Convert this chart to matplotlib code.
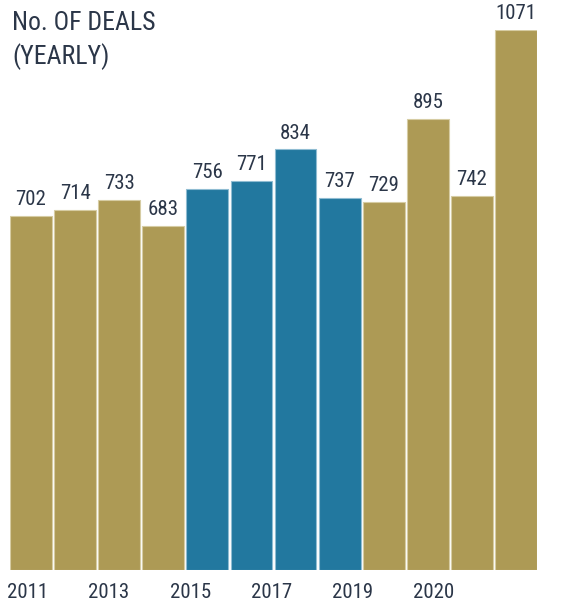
import matplotlib
matplotlib.use("Agg")
import matplotlib.pyplot as plt

years = ["2011", "2012", "2013", "2014", "2015", "2016", "2017", "2018", "2019", "2020", "2021", "2022"]
deals = [702, 714, 733, 683, 756, 771, 834, 737, 729, 895, 742, 1071]
highlight = [False, False, False, False, True, True, True, True, False, False, False, False]
tick_labels = ["2011", "2013", "2015", "2017", "2019", "2020"]

GOLD = "#ad9a55"
BLUE = "#22789f"
GOLD_EDGE = "#d6cca3"
BLUE_EDGE = "#8fbcd2"
TEXT = "#2b3648"

plt.rcParams["font.family"] = ["Roboto Condensed", "DejaVu Sans"]

fig = plt.figure(figsize=(5.70, 6.02), dpi=100)
ax = fig.add_axes([10 / 570, 32 / 602, 527 / 570, 540 / 602])

x = list(range(len(years)))
colors = [BLUE if h else GOLD for h in highlight]
edges = [BLUE_EDGE if h else GOLD_EDGE for h in highlight]
ax.bar(x, deals, width=0.95, color=colors, edgecolor=edges, linewidth=0.8)

for xi, v in zip(x, deals):
    ax.annotate(str(v), (xi, v), xytext=(0, 5), textcoords="offset points",
                ha="center", va="bottom", fontsize=15, color=TEXT)

ax.set_xlim(-0.476, 11.476)
ax.set_ylim(0, 1071)

tick_pos = [-0.08 + i * 1.844 for i in range(len(tick_labels))]
ax.set_xticks(tick_pos)
ax.set_xticklabels(tick_labels, fontsize=15, color=TEXT)
ax.tick_params(axis="x", length=0, pad=9)
ax.set_yticks([])
for s in ax.spines.values():
    s.set_visible(False)

fig.text(12 / 570, 1 - 11 / 602, "No. OF DEALS\n(YEARLY)", ha="left", va="top",
         fontsize=18.5, color=TEXT, linespacing=1.4)

fig.savefig("out.png", dpi=100, facecolor="white")
